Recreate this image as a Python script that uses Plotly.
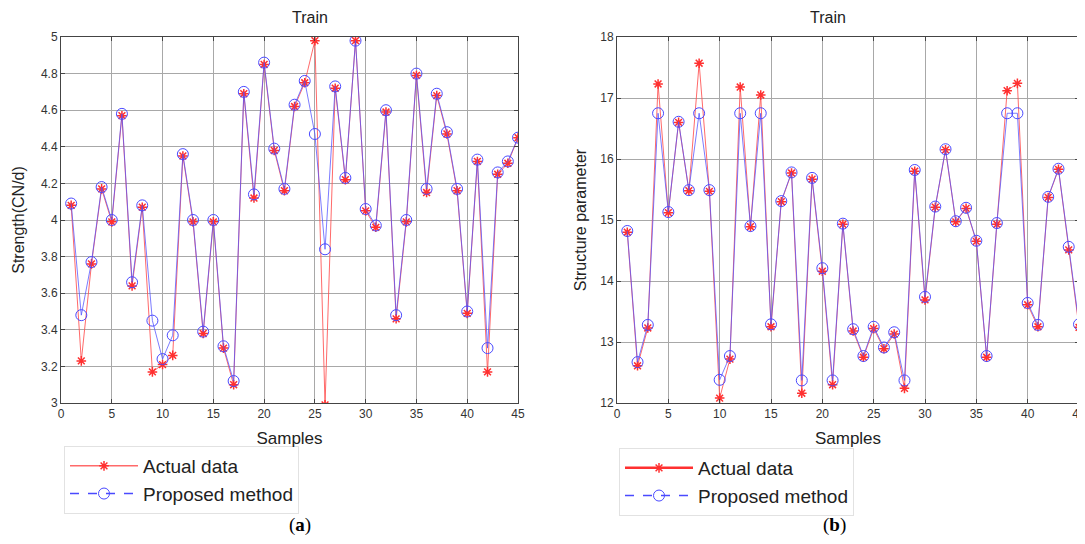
import plotly.graph_objects as go

samples = list(range(1, 46))

strength_actual = [4.08, 3.23, 3.76, 4.17, 3.99, 4.57, 3.64, 4.07, 3.17, 3.21,
                   3.26, 4.35, 3.99, 3.38, 3.99, 3.30, 3.10, 4.69, 4.12, 4.85,
                   4.38, 4.16, 4.62, 4.75, 4.98, 2.99, 4.72, 4.22, 4.98, 4.05,
                   3.96, 4.59, 3.46, 3.99, 4.79, 4.15, 4.68, 4.47, 4.16, 3.49,
                   4.32, 3.17, 4.25, 4.31, 4.45]
strength_pred = [4.09, 3.48, 3.77, 4.18, 4.00, 4.58, 3.66, 4.08, 3.45, 3.24,
                 3.37, 4.36, 4.00, 3.39, 4.00, 3.31, 3.12, 4.70, 4.14, 4.86,
                 4.39, 4.17, 4.63, 4.76, 4.47, 3.84, 4.73, 4.23, 4.98, 4.06,
                 3.97, 4.60, 3.48, 4.00, 4.80, 4.17, 4.69, 4.48, 4.17, 3.50,
                 4.33, 3.30, 4.26, 4.32, 4.45]

struct_actual = [14.80, 12.61, 13.23, 17.23, 15.12, 16.60, 15.48, 17.57, 15.47, 12.08,
                 12.72, 17.18, 14.89, 17.05, 13.25, 15.30, 15.77, 12.16, 15.67, 14.16,
                 12.30, 14.93, 13.18, 12.75, 13.22, 12.89, 13.13, 12.24, 15.80, 13.69,
                 15.21, 16.15, 14.97, 15.19, 14.65, 12.75, 14.93, 17.12, 17.24, 13.61,
                 13.25, 15.37, 15.83, 14.51, 13.24]
struct_pred = [14.82, 12.67, 13.28, 16.75, 15.13, 16.61, 15.49, 16.75, 15.49, 12.38,
               12.77, 16.75, 14.90, 16.75, 13.29, 15.31, 15.78, 12.37, 15.69, 14.21,
               12.37, 14.94, 13.21, 12.77, 13.25, 12.91, 13.16, 12.37, 15.82, 13.74,
               15.22, 16.16, 14.98, 15.20, 14.66, 12.77, 14.95, 16.75, 16.75, 13.64,
               13.28, 15.38, 15.84, 14.56, 13.29]

x_ticks = [0, 5, 10, 15, 20, 25, 30, 35, 40, 45]
strength_ticks = [3, 3.2, 3.4, 3.6, 3.8, 4, 4.2, 4.4, 4.6, 4.8, 5]
struct_ticks = [12, 13, 14, 15, 16, 17, 18]

W, H = 1085, 544
OFF = 8  # page body margin compensation

def px(x):
    return (x - OFF) / W

def py(y):
    return 1 - (y - OFF) / H

RED = "#ff3030"
RED_LINE = "rgba(255,80,80,0.85)"
BLUE = "#4a4aff"
BLUE_LINE = "rgba(80,80,255,0.75)"
FONT = "Liberation Sans, Arial, sans-serif"

fig = go.Figure()

def add_panel(xa, ya, actual, pred, legend):
    fig.add_trace(go.Scatter(
        x=samples, y=actual, mode="lines+markers", xaxis=xa, yaxis=ya,
        line=dict(color=RED_LINE, width=1),
        marker=dict(symbol="asterisk-open", size=8, color=RED, line=dict(color=RED, width=1.5)),
        showlegend=False, hoverinfo="x+y"))
    fig.add_trace(go.Scatter(
        x=samples, y=pred, mode="lines+markers", xaxis=xa, yaxis=ya,
        line=dict(color=BLUE_LINE, width=1),
        marker=dict(symbol="circle-open", size=11, color=BLUE, line=dict(color="rgba(90,90,255,0.8)", width=1)),
        showlegend=False, hoverinfo="x+y"))
    # legend entries
    fig.add_trace(go.Scatter(
        x=[None], y=[None], mode="lines+markers", xaxis=xa, yaxis=ya, name="Actual data",
        line=dict(color=RED_LINE if legend == "legend" else RED, width=1.5 if legend == "legend" else 2.5),
        marker=dict(symbol="asterisk-open", size=8, color=RED, line=dict(color=RED, width=1.5)),
        legend=legend))
    fig.add_trace(go.Scatter(
        x=[None], y=[None], mode="lines+markers", xaxis=xa, yaxis=ya, name="Proposed method",
        line=dict(color=BLUE, width=1.5, dash="dash"),
        marker=dict(symbol="circle-open", size=11, color=BLUE, line=dict(color=BLUE, width=1)),
        legend=legend))

add_panel("x", "y", strength_actual, strength_pred, "legend")
add_panel("x2", "y2", struct_actual, struct_pred, "legend2")

axis_common = dict(
    automargin=False,
    showgrid=True, gridcolor="#a8a8a8", gridwidth=1,
    showline=True, linecolor="#444444", linewidth=1, mirror="ticks",
    ticks="inside", ticklen=4, tickcolor="#444444",
    tickfont=dict(family=FONT, size=12, color="#333333"),
    zeroline=False,
)

legend_common = dict(
    xanchor="left", yanchor="top",
    bgcolor="white", bordercolor="#e2e2e2", borderwidth=1,
    font=dict(family=FONT, size=19, color="#222"), itemwidth=68, tracegroupgap=0,
)

fig.update_layout(
    width=W, height=H,
    margin=dict(l=0, r=0, t=0, b=0, autoexpand=False),
    paper_bgcolor="white", plot_bgcolor="white",
    font=dict(family=FONT, color="#222222"),
    xaxis=dict(domain=[px(61), px(518)], range=[0, 45], tickvals=x_ticks, anchor="y",
               title=dict(text="Samples", font=dict(size=17, family=FONT, color="#222"), standoff=11),
               **axis_common),
    yaxis=dict(domain=[py(403), py(37)], range=[3, 5], tickvals=strength_ticks,
               ticktext=[("%g" % v) for v in strength_ticks], anchor="x",
               title=dict(text="Strength(CN/d)", font=dict(size=16, family=FONT, color="#222"), standoff=12),
               **axis_common),
    xaxis2=dict(domain=[px(617), px(1079)], range=[0, 45], tickvals=x_ticks, anchor="y2",
                title=dict(text="Samples", font=dict(size=17, family=FONT, color="#222"), standoff=11),
                **axis_common),
    yaxis2=dict(domain=[py(403), py(37)], range=[12, 18], tickvals=struct_ticks, anchor="x2",
                title=dict(text="Structure parameter", font=dict(size=16, family=FONT, color="#222"), standoff=9),
                **axis_common),
    legend=dict(x=px(64), y=py(446), **legend_common),
    legend2=dict(x=px(619), y=py(448), **legend_common),
    annotations=[
        dict(text="Train", x=px((61 + 518) / 2), y=py(17), xref="paper", yref="paper", yanchor="middle",
             showarrow=False, font=dict(family=FONT, size=16, color="#222")),
        dict(text="Train", x=px((617 + 1079) / 2), y=py(17), xref="paper", yref="paper", yanchor="middle",
             showarrow=False, font=dict(family=FONT, size=16, color="#222")),
        dict(text="(<b>a</b>)", x=px(287), y=py(525), xref="paper", yref="paper", yanchor="middle",
             showarrow=False, font=dict(family="Liberation Serif, Times New Roman, serif", size=19, color="#000")),
        dict(text="(<b>b</b>)", x=px(848), y=py(525), xref="paper", yref="paper", yanchor="middle",
             showarrow=False, font=dict(family="Liberation Serif, Times New Roman, serif", size=19, color="#000")),
    ],
)

fig.write_html("out.html")
